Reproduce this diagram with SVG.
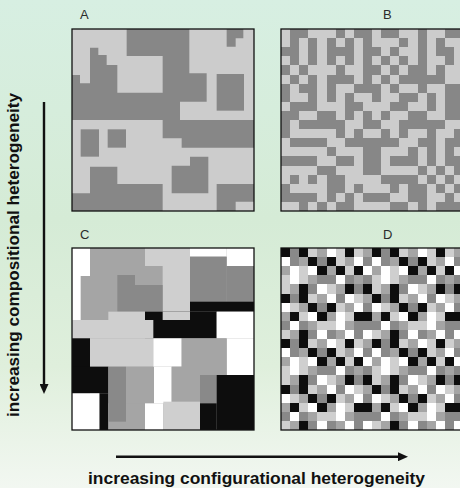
<svg xmlns="http://www.w3.org/2000/svg" width="460" height="488" viewBox="0 0 460 488">
<style>
.lt{fill:#cccccc}.dk{fill:#878787}
.k{fill:#0d0d0d}.d{fill:#898989}.m{fill:#a5a5a5}.l{fill:#cfcfcf}.w{fill:#ffffff}
.frame{fill:none;stroke:#111;stroke-width:1.3}
.lab{font-family:"Liberation Sans",Arial,sans-serif;font-size:13px;fill:#2b2b2b}
.ax{font-family:"Liberation Sans",Arial,sans-serif;font-size:17px;font-weight:bold;fill:#111}
.arr{stroke:#111;stroke-width:2.4;fill:none;marker-end:url(#ah)}
.grid{shape-rendering:crispEdges}
</style>
<defs>
<linearGradient id="bg" x1="0" y1="0" x2="0" y2="1">
<stop offset="0" stop-color="#d7efe2"/>
<stop offset="0.45" stop-color="#d5ebd6"/>
<stop offset="0.75" stop-color="#dfefdc"/>
<stop offset="1" stop-color="#f2f7f1"/>
</linearGradient>
<marker id="ah" markerUnits="userSpaceOnUse" markerWidth="10" markerHeight="9" refX="1" refY="4.5" orient="auto">
<path d="M0,0 L10,4.5 L0,9 z" fill="#111"/>
</marker>
<clipPath id="cA"><rect x="72" y="29" width="182" height="182"/></clipPath>
<clipPath id="cC"><rect x="72" y="248" width="182" height="182"/></clipPath>
<g id="dtile">
<rect class="m" x="0" y="0" width="10" height="10"/>
<rect class="k" x="0" y="0" width="1" height="1"/><rect class="d" x="1" y="0" width="1" height="1"/><rect class="k" x="2" y="0" width="1" height="1"/><rect class="l" x="3" y="0" width="1" height="1"/><rect class="w" x="5" y="0" width="1" height="1"/><rect class="l" x="6" y="0" width="1" height="1"/><rect class="k" x="7" y="0" width="1" height="1"/><rect class="l" x="8" y="0" width="1" height="1"/>
<rect class="w" x="0" y="1" width="1" height="1"/><rect class="d" x="1" y="1" width="1" height="1"/><rect class="k" x="3" y="1" width="1" height="1"/><rect class="d" x="4" y="1" width="1" height="1"/><rect class="k" x="5" y="1" width="1" height="1"/><rect class="l" x="6" y="1" width="1" height="1"/><rect class="w" x="8" y="1" width="1" height="1"/><rect class="d" x="9" y="1" width="1" height="1"/>
<rect class="w" x="1" y="2" width="1" height="1"/><rect class="l" x="2" y="2" width="1" height="1"/><rect class="w" x="3" y="2" width="1" height="1"/><rect class="k" x="4" y="2" width="1" height="1"/><rect class="k" x="6" y="2" width="1" height="1"/><rect class="l" x="7" y="2" width="1" height="1"/><rect class="k" x="8" y="2" width="1" height="1"/><rect class="w" x="9" y="2" width="1" height="1"/>
<rect class="l" x="0" y="3" width="1" height="1"/><rect class="w" x="1" y="3" width="1" height="1"/><rect class="l" x="2" y="3" width="1" height="1"/><rect class="d" x="4" y="3" width="2" height="1"/><rect class="w" x="6" y="3" width="1" height="1"/><rect class="d" x="7" y="3" width="1" height="1"/><rect class="d" x="9" y="3" width="1" height="1"/>
<rect class="l" x="0" y="4" width="1" height="1"/><rect class="k" x="2" y="4" width="1" height="1"/><rect class="d" x="3" y="4" width="1" height="1"/><rect class="w" x="4" y="4" width="1" height="1"/><rect class="l" x="5" y="4" width="1" height="1"/><rect class="k" x="7" y="4" width="1" height="1"/><rect class="d" x="8" y="4" width="1" height="1"/><rect class="k" x="9" y="4" width="1" height="1"/>
<rect class="k" x="0" y="5" width="1" height="1"/><rect class="d" x="1" y="5" width="1" height="1"/><rect class="k" x="2" y="5" width="1" height="1"/><rect class="l" x="3" y="5" width="1" height="1"/><rect class="w" x="5" y="5" width="1" height="1"/><rect class="d" x="6" y="5" width="1" height="1"/><rect class="w" x="7" y="5" width="1" height="1"/><rect class="l" x="8" y="5" width="1" height="1"/>
<rect class="w" x="0" y="6" width="1" height="1"/><rect class="l" x="1" y="6" width="1" height="1"/><rect class="k" x="3" y="6" width="1" height="1"/><rect class="d" x="4" y="6" width="1" height="1"/><rect class="k" x="5" y="6" width="1" height="1"/><rect class="l" x="6" y="6" width="1" height="1"/><rect class="w" x="8" y="6" width="1" height="1"/><rect class="d" x="9" y="6" width="1" height="1"/>
<rect class="k" x="1" y="7" width="1" height="1"/><rect class="l" x="2" y="7" width="1" height="1"/><rect class="w" x="3" y="7" width="1" height="1"/><rect class="k" x="4" y="7" width="1" height="1"/><rect class="w" x="6" y="7" width="1" height="1"/><rect class="l" x="7" y="7" width="1" height="1"/><rect class="k" x="8" y="7" width="2" height="1"/>
<rect class="d" x="0" y="8" width="1" height="1"/><rect class="w" x="1" y="8" width="1" height="1"/><rect class="d" x="2" y="8" width="1" height="1"/><rect class="l" x="4" y="8" width="2" height="1"/><rect class="w" x="6" y="8" width="1" height="1"/><rect class="d" x="8" y="8" width="2" height="1"/>
<rect class="l" x="0" y="9" width="1" height="1"/><rect class="k" x="2" y="9" width="1" height="1"/><rect class="d" x="3" y="9" width="1" height="1"/><rect class="w" x="4" y="9" width="1" height="1"/><rect class="d" x="5" y="9" width="1" height="1"/><rect class="w" x="7" y="9" width="1" height="1"/><rect class="d" x="8" y="9" width="1" height="1"/><rect class="w" x="9" y="9" width="1" height="1"/>
</g>
</defs>

<rect id="background" x="0" y="0" width="460" height="488" fill="url(#bg)"/>

<g id="panel-A">
<rect class="lt" x="72" y="29" width="182" height="182"/>
<g clip-path="url(#cA)">
<g transform="translate(60,20) scale(0.33333)" class="dk">
<polygon points="200,27 388,27 388,160 440,160 440,245 360,245 360,300 582,300 582,383 365,383 365,355 308,355 308,300 36,300 36,165 60,165 60,190 90,190 90,83 115,83 115,105 140,105 140,135 172,135 172,218 308,218 308,108 200,108"/>
<polygon points="500,27 550,27 550,55 527,55 527,80 500,80"/>
<rect x="470" y="162" width="82" height="110"/>
<rect x="62" y="328" width="55" height="82"/>
<rect x="143" y="328" width="55" height="55"/>
<polygon points="36,520 90,520 90,440 172,440 172,492 308,492 308,573 36,573"/>
<polygon points="335,437 390,437 390,410 445,410 445,520 335,520"/>
<polygon points="470,492 582,492 582,545 527,545 527,573 470,573"/>
</g>
</g>
<rect class="frame" x="72" y="29" width="182" height="182"/>
<text class="lab" x="80" y="19">A</text>
</g>

<g id="panel-B">
<g class="grid" transform="translate(281,29) scale(9.1)">
<rect class="lt" x="0" y="0" width="20" height="20"/>
<g class="dk">
<rect x="1" y="0" width="2" height="1"/><rect x="6" y="0" width="1" height="1"/><rect x="8" y="0" width="2" height="1"/><rect x="11" y="0" width="2" height="1"/><rect x="15" y="0" width="1" height="1"/><rect x="18" y="0" width="2" height="1"/>
<rect x="1" y="1" width="1" height="1"/><rect x="3" y="1" width="1" height="1"/><rect x="5" y="1" width="1" height="1"/><rect x="7" y="1" width="1" height="1"/><rect x="9" y="1" width="1" height="1"/><rect x="13" y="1" width="1" height="1"/><rect x="15" y="1" width="1" height="1"/><rect x="17" y="1" width="1" height="1"/>
<rect x="0" y="2" width="2" height="1"/><rect x="3" y="2" width="1" height="1"/><rect x="5" y="2" width="3" height="1"/><rect x="9" y="2" width="2" height="1"/><rect x="12" y="2" width="1" height="1"/><rect x="15" y="2" width="1" height="1"/><rect x="17" y="2" width="2" height="1"/>
<rect x="1" y="3" width="1" height="1"/><rect x="3" y="3" width="1" height="1"/><rect x="5" y="3" width="1" height="1"/><rect x="7" y="3" width="1" height="1"/><rect x="9" y="3" width="1" height="1"/><rect x="11" y="3" width="1" height="1"/><rect x="13" y="3" width="1" height="1"/><rect x="15" y="3" width="1" height="1"/><rect x="18" y="3" width="1" height="1"/>
<rect x="0" y="4" width="1" height="1"/><rect x="2" y="4" width="1" height="1"/><rect x="6" y="4" width="1" height="1"/><rect x="9" y="4" width="2" height="1"/><rect x="12" y="4" width="1" height="1"/><rect x="14" y="4" width="2" height="1"/><rect x="17" y="4" width="1" height="1"/>
<rect x="1" y="5" width="1" height="1"/><rect x="3" y="5" width="1" height="1"/><rect x="5" y="5" width="3" height="1"/><rect x="9" y="5" width="1" height="1"/><rect x="11" y="5" width="1" height="1"/><rect x="13" y="5" width="5" height="1"/>
<rect x="0" y="6" width="1" height="1"/><rect x="2" y="6" width="2" height="1"/><rect x="5" y="6" width="1" height="1"/><rect x="8" y="6" width="3" height="1"/><rect x="12" y="6" width="1" height="1"/><rect x="15" y="6" width="1" height="1"/><rect x="18" y="6" width="2" height="1"/>
<rect x="0" y="7" width="1" height="1"/><rect x="3" y="7" width="1" height="1"/><rect x="5" y="7" width="1" height="1"/><rect x="7" y="7" width="1" height="1"/><rect x="10" y="7" width="1" height="1"/><rect x="13" y="7" width="2" height="1"/><rect x="16" y="7" width="1" height="1"/><rect x="18" y="7" width="2" height="1"/>
<rect x="1" y="8" width="3" height="1"/><rect x="7" y="8" width="2" height="1"/><rect x="12" y="8" width="2" height="1"/><rect x="16" y="8" width="1" height="1"/><rect x="18" y="8" width="2" height="1"/>
<rect x="0" y="9" width="2" height="1"/><rect x="4" y="9" width="2" height="1"/><rect x="7" y="9" width="1" height="1"/><rect x="9" y="9" width="1" height="1"/><rect x="11" y="9" width="1" height="1"/><rect x="14" y="9" width="2" height="1"/><rect x="18" y="9" width="2" height="1"/>
<rect x="0" y="10" width="1" height="1"/><rect x="2" y="10" width="5" height="1"/><rect x="9" y="10" width="2" height="1"/><rect x="13" y="10" width="5" height="1"/>
<rect x="0" y="11" width="1" height="1"/><rect x="6" y="11" width="1" height="1"/><rect x="8" y="11" width="1" height="1"/><rect x="11" y="11" width="1" height="1"/><rect x="13" y="11" width="1" height="1"/><rect x="16" y="11" width="1" height="1"/><rect x="19" y="11" width="1" height="1"/>
<rect x="1" y="12" width="4" height="1"/><rect x="7" y="12" width="6" height="1"/><rect x="15" y="12" width="2" height="1"/><rect x="18" y="12" width="2" height="1"/>
<rect x="5" y="13" width="1" height="1"/><rect x="9" y="13" width="2" height="1"/><rect x="14" y="13" width="1" height="1"/><rect x="16" y="13" width="1" height="1"/><rect x="18" y="13" width="1" height="1"/>
<rect x="0" y="14" width="4" height="1"/><rect x="6" y="14" width="2" height="1"/><rect x="9" y="14" width="2" height="1"/><rect x="12" y="14" width="3" height="1"/><rect x="16" y="14" width="1" height="1"/><rect x="18" y="14" width="2" height="1"/>
<rect x="4" y="15" width="2" height="1"/><rect x="9" y="15" width="2" height="1"/><rect x="15" y="15" width="1" height="1"/><rect x="17" y="15" width="1" height="1"/><rect x="19" y="15" width="1" height="1"/>
<rect x="1" y="16" width="1" height="1"/><rect x="3" y="16" width="1" height="1"/><rect x="5" y="16" width="2" height="1"/><rect x="11" y="16" width="4" height="1"/><rect x="16" y="16" width="1" height="1"/><rect x="18" y="16" width="1" height="1"/>
<rect x="0" y="17" width="1" height="1"/><rect x="5" y="17" width="2" height="1"/><rect x="8" y="17" width="1" height="1"/><rect x="12" y="17" width="1" height="1"/><rect x="14" y="17" width="2" height="1"/><rect x="17" y="17" width="1" height="1"/><rect x="19" y="17" width="1" height="1"/>
<rect x="0" y="18" width="4" height="1"/><rect x="5" y="18" width="1" height="1"/><rect x="7" y="18" width="1" height="1"/><rect x="9" y="18" width="3" height="1"/><rect x="14" y="18" width="2" height="1"/><rect x="18" y="18" width="1" height="1"/>
<rect x="2" y="19" width="1" height="1"/><rect x="4" y="19" width="1" height="1"/><rect x="6" y="19" width="2" height="1"/><rect x="12" y="19" width="2" height="1"/><rect x="15" y="19" width="1" height="1"/><rect x="17" y="19" width="3" height="1"/>
</g>
</g>
<rect class="frame" x="281" y="29" width="182" height="182"/>
<text class="lab" x="383" y="19">B</text>
</g>

<g id="panel-C">
<g clip-path="url(#cC)">
<g transform="translate(60,230) scale(0.33333)">
<rect class="m" x="36" y="54" width="546" height="546"/>
<rect class="w" x="36" y="54" width="54" height="84"/>
<rect class="w" x="36" y="138" width="26" height="132"/>
<rect class="l" x="255" y="54" width="135" height="54"/>
<rect class="l" x="308" y="108" width="82" height="162"/>
<rect class="w" x="390" y="54" width="110" height="26"/>
<rect class="w" x="500" y="54" width="82" height="54"/>
<rect class="d" x="390" y="80" width="110" height="135"/>
<rect class="d" x="500" y="108" width="82" height="107"/>
<rect class="d" x="172" y="135" width="53" height="110"/>
<rect class="d" x="225" y="165" width="83" height="80"/>
<rect class="k" x="390" y="215" width="192" height="30"/>
<rect class="k" x="255" y="245" width="215" height="80"/>
<rect class="l" x="308" y="245" width="82" height="25"/>
<rect class="w" x="470" y="245" width="112" height="80"/>
<rect class="w" x="500" y="325" width="82" height="110"/>
<rect class="l" x="145" y="245" width="110" height="25"/>
<rect class="l" x="36" y="270" width="244" height="55"/>
<rect class="l" x="90" y="325" width="190" height="85"/>
<rect class="k" x="36" y="325" width="54" height="165"/>
<rect class="k" x="36" y="410" width="109" height="80"/>
<rect class="k" x="118" y="490" width="27" height="110"/>
<rect class="w" x="36" y="490" width="82" height="110"/>
<rect class="m" x="198" y="410" width="84" height="110"/>
<rect class="m" x="145" y="520" width="110" height="80"/>
<rect class="d" x="145" y="410" width="53" height="165"/>
<rect class="w" x="280" y="325" width="85" height="85"/>
<rect class="w" x="282" y="410" width="53" height="110"/>
<rect class="w" x="255" y="520" width="55" height="80"/>
<rect class="m" x="365" y="325" width="135" height="110"/>
<rect class="m" x="335" y="410" width="85" height="110"/>
<rect class="d" x="420" y="435" width="50" height="85"/>
<rect class="k" x="470" y="435" width="112" height="165"/>
<rect class="k" x="420" y="520" width="50" height="80"/>
<rect class="l" x="310" y="515" width="110" height="85"/>
</g>
</g>
<rect class="frame" x="72" y="248" width="182" height="182"/>
<text class="lab" x="80" y="238.5">C</text>
</g>

<g id="panel-D">
<g class="grid" transform="translate(281,248) scale(9.1)">
<use href="#dtile"/>
<use href="#dtile" x="10"/>
<use href="#dtile" y="10"/>
<use href="#dtile" x="10" y="10"/>
</g>
<rect class="frame" x="281" y="248" width="182" height="182"/>
<text class="lab" x="383" y="238.5">D</text>
</g>

<g id="connectors">
<line class="arr" x1="44" y1="102" x2="44" y2="385"/>
<line class="arr" x1="116" y1="456.7" x2="399" y2="456.7"/>
</g>

<g id="axis-labels">
<text class="ax" transform="translate(19,255) rotate(-90)" text-anchor="middle" textLength="324" lengthAdjust="spacingAndGlyphs">increasing compositional heterogeneity</text>
<text class="ax" x="88" y="483.5" textLength="337" lengthAdjust="spacingAndGlyphs">increasing configurational heterogeneity</text>
</g>
</svg>
